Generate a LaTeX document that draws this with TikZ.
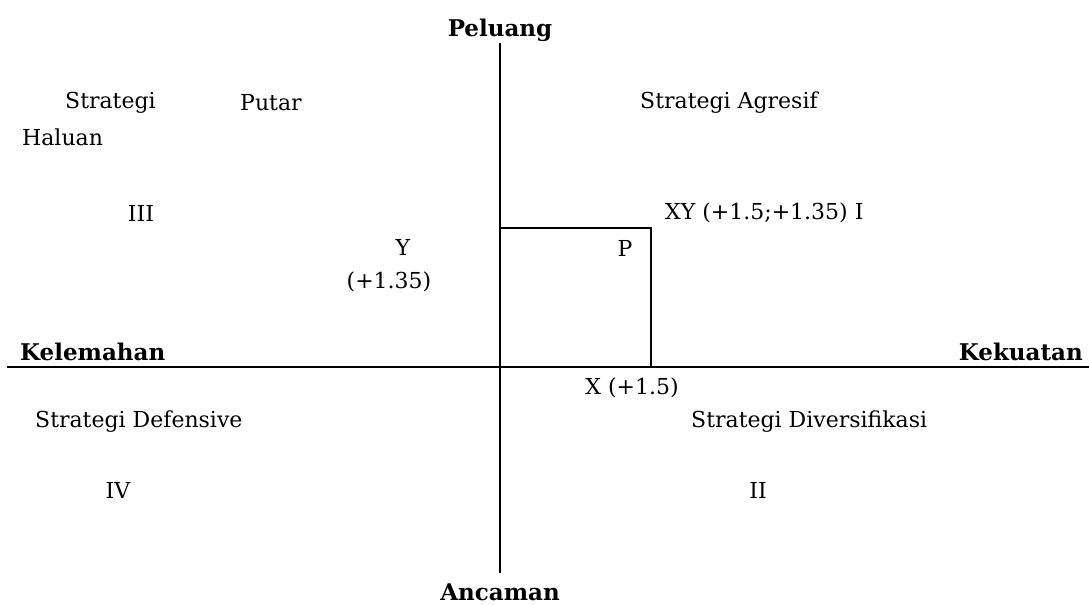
\documentclass[tikz,border=0pt]{standalone}
\usepackage{fontspec}
\setmainfont{DejaVu Serif}
\begin{document}
\begin{tikzpicture}[x=1pt,y=-1pt,
  lbl/.style={inner sep=0pt,font=\fontsize{22}{26}\selectfont},
  blbl/.style={inner sep=0pt,font=\fontsize{23}{27}\selectfont\bfseries},
  ln/.style={line width=1.5pt}]
\useasboundingbox (0,0) rectangle (1089,605);
\coordinate (vt) at (500,43);
\coordinate (vb) at (500,573);
\coordinate (hl) at (7,367);
\coordinate (hr) at (1089,367);
\coordinate (o) at (500,367);
\coordinate (py) at (500,228);
\coordinate (pc) at (651,228);
\coordinate (px) at (651,367);
\draw[ln] (vt) -- (vb);
\draw[ln] (hl) -- (hr);
\draw[ln] (py) -- (pc) -- (px);
\node[blbl] (peluang) at (500,30) {Peluang};
\node[blbl] (ancaman) at (500,592) {Ancaman};
\node[blbl,anchor=west] (kelemahan) at (20,352) {Kelemahan};
\node[blbl,anchor=east] (kekuatan) at (1083,352) {Kekuatan};
\node[lbl,anchor=west] (s1) at (65,103) {Strategi};
\node[lbl,anchor=west] (s1b) at (240,103) {Putar};
\node[lbl,anchor=west] (s1c) at (22,137) {Haluan};
\node[lbl,anchor=west] (agr) at (640,103) {Strategi Agresif};
\node[lbl] (iii) at (141,213) {III};
\node[lbl,anchor=west] (xy) at (665,213) {XY (+1.5;+1.35) I};
\node[lbl] (y) at (403,247) {Y};
\node[lbl] (y2) at (389,282) {(+1.35)};
\node[lbl] (p) at (625,248) {P};
\node[lbl] (x) at (632,388) {X (+1.5)};
\node[lbl,anchor=west] (def) at (35,422) {Strategi Defensive};
\node[lbl,anchor=west] (div) at (691,422) {Strategi Diversifikasi};
\node[lbl] (iv) at (118,490) {IV};
\node[lbl] (ii) at (758,490) {II};
\end{tikzpicture}
\end{document}
